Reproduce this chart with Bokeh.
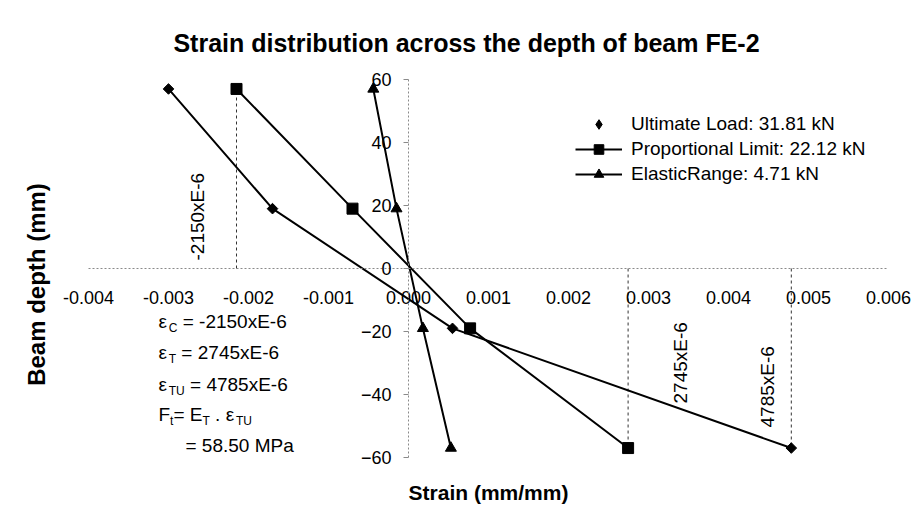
import math
from bokeh.plotting import figure
from bokeh.models import Range1d, FixedTicker, Label, Legend, LegendItem, NumeralTickFormatter
from bokeh.embed import file_html
from bokeh.resources import INLINE

# ---------------- data ----------------
depth_mm = [57, 19, -19, -57]
ultimate_strain = [-0.0030, -0.0017, 0.00055, 0.004785]
proportional_strain = [-0.00215, -0.0007, 0.00077, 0.002745]
elastic_strain = [-0.00044, -0.00015, 0.00018, 0.00053]

series_labels = ["Ultimate Load: 31.81 kN", "Proportional Limit: 22.12 kN", "ElasticRange: 4.71 kN"]

x_ticks = [-0.004, -0.003, -0.002, -0.001, 0.0, 0.001, 0.002, 0.003, 0.004, 0.005, 0.006]
y_ticks = [-60, -40, -20, 0, 20, 40, 60]

marked_strain = [-0.00215, 0.002745, 0.004785]
marked_depth = [57, -57, -57]
marked_text = ["-2150xE-6", "2745xE-6", "4785xE-6"]

title_text = "Strain distribution across the depth of beam FE-2"
x_title = "Strain (mm/mm)"
y_title = "Beam depth (mm)"

XMIN, XMAX = -0.004, 0.006
YMIN, YMAX = -60, 60

# ---------------- layout ----------------
W, H = 917, 515
FONT = "Liberation Sans"
# pixel position of the axis extents in the picture
FL, FR, FT, FB = 88, 888, 79, 457


def dx(X):
    return XMIN + (X - FL) / (FR - FL) * (XMAX - XMIN)


def dy(Y):
    return YMAX - (Y - FT) / (FB - FT) * (YMAX - YMIN)


# the frame fills the whole canvas so nothing gets clipped
p = figure(width=W, height=H, output_backend="svg", toolbar_location=None,
           x_range=Range1d(dx(0), dx(W)), y_range=Range1d(dy(H), dy(0)),
           min_border=0, title=None)
p.outline_line_color = None
p.grid.visible = False
p.background_fill_color = "white"
p.border_fill_color = "white"

# axes crossing at the origin
p.xaxis.fixed_location = 0
p.yaxis.fixed_location = 0
p.xaxis.bounds = (XMIN, XMAX)
p.yaxis.bounds = (YMIN, YMAX)
p.xaxis.ticker = FixedTicker(ticks=x_ticks)
p.yaxis.ticker = FixedTicker(ticks=y_ticks)
p.xaxis.formatter = NumeralTickFormatter(format="0.000")
for ax in (p.xaxis, p.yaxis):
    ax.axis_line_color = "#8a8a8a"
    ax.axis_line_dash = "2 2"
    ax.axis_line_width = 1
    ax.major_tick_line_color = "#8a8a8a"
    ax.major_tick_in = 0
    ax.minor_tick_in = 0
    ax.minor_tick_out = 0
    ax.major_label_text_font = FONT
    ax.major_label_text_font_size = "18px"
    ax.major_label_text_color = "black"
p.xaxis.major_tick_out = 0
p.xaxis.major_label_standoff = 22
p.yaxis.major_tick_out = 5
p.yaxis.major_label_standoff = 12

# dashed guide lines from points to the strain axis
p.segment(x0=marked_strain, y0=[0] * len(marked_strain), x1=marked_strain, y1=marked_depth,
          line_color="#333333", line_width=1, line_dash="3 3")

# series
l_u = p.line(ultimate_strain, depth_mm, line_color="black", line_width=2)
l_p = p.line(proportional_strain, depth_mm, line_color="black", line_width=2)
l_e = p.line(elastic_strain, depth_mm, line_color="black", line_width=2)
s_u = p.scatter(ultimate_strain, depth_mm, marker="square", angle=math.pi / 4, size=7.5,
                color="black")
s_p = p.scatter(proportional_strain, depth_mm, marker="square", size=11, color="black")
s_e = p.scatter(elastic_strain, depth_mm, marker="triangle", size=11, color="black")
# legend swatch for the diamond series (draws nothing in the plot area)
key_u = p.scatter(x=[math.nan], y=[math.nan], marker="diamond", size=10, color="black")

legend = Legend(items=[
    LegendItem(label=series_labels[0], renderers=[key_u]),
    LegendItem(label=series_labels[1], renderers=[l_p, s_p]),
    LegendItem(label=series_labels[2], renderers=[l_e, s_e]),
], location=(575, H - 186))
legend.border_line_color = None
legend.background_fill_alpha = 0
legend.padding = 0
legend.margin = 0
legend.spacing = 1
legend.glyph_width = 47
legend.glyph_height = 24
legend.label_height = 24
legend.label_standoff = 9
legend.label_text_font = FONT
legend.label_text_font_size = "19px"
legend.label_text_color = "black"
p.add_layout(legend)

# rotated value labels next to the guide lines
rot_pos = [(197, 260), (680, 403), (767, 427)]
for txt, (X, Y) in zip(marked_text, rot_pos):
    p.add_layout(Label(x=dx(X), y=dy(Y), text=txt, angle=math.pi / 2, text_align="left",
                       text_baseline="middle", text_font=FONT, text_font_size="19px",
                       text_color="black"))

# titles
p.add_layout(Label(x=dx(466), y=dy(42), text=title_text, text_align="center",
                   text_baseline="middle", text_font=FONT, text_font_size="25px",
                   text_font_style="bold", text_color="black"))
p.add_layout(Label(x=dx(488), y=dy(492), text=x_title, text_align="center",
                   text_baseline="middle", text_font=FONT, text_font_size="21px",
                   text_font_style="bold", text_color="black"))
p.add_layout(Label(x=dx(36), y=dy(284), text=y_title, angle=math.pi / 2, text_align="center",
                   text_baseline="middle", text_font=FONT, text_font_size="24px",
                   text_font_style="bold", text_color="black"))

# formula block with subscripts
CW = {' ': 278, '=': 584, '-': 333, '.': 278, 'x': 500, 'E': 667, 'M': 833, 'P': 667, 'a': 556,
      'F': 611, 'C': 722, 'T': 611, 'U': 722, 't': 278, 'ε': 540}


def tw(s, size):
    return sum(CW.get(c, 556) for c in s) / 1000.0 * size


MAIN, SUB = 19, 12
formula_lines = [
    (158, 321, [("ε", 0), ("C", 1), (" = -2150xE-6", 0)]),
    (158, 352, [("ε", 0), ("T", 1), (" = 2745xE-6", 0)]),
    (158, 384, [("ε", 0), ("TU", 1), (" = 4785xE-6", 0)]),
    (158, 414, [("F", 0), ("t", 1), ("= E", 0), ("T", 1), (" .", 0), (" ε", 0), ("TU", 1)]),
    (185, 445, [("= 58.50 MPa", 0)]),
]
for X, Y, parts in formula_lines:
    cur = 0.0
    for txt, sub in parts:
        size = SUB if sub else MAIN
        lead = len(txt) - len(txt.lstrip(" "))
        cur += tw(" " * lead, MAIN)
        body = txt.lstrip(" ")
        p.add_layout(Label(x=dx(X), y=dy(Y), x_offset=cur, y_offset=-6 if sub else 0,
                           text=body, text_align="left", text_baseline="middle",
                           text_font=FONT, text_font_size=f"{size}px", text_color="black"))
        cur += tw(body, size)

open("out.html", "w").write(file_html(p, INLINE))
